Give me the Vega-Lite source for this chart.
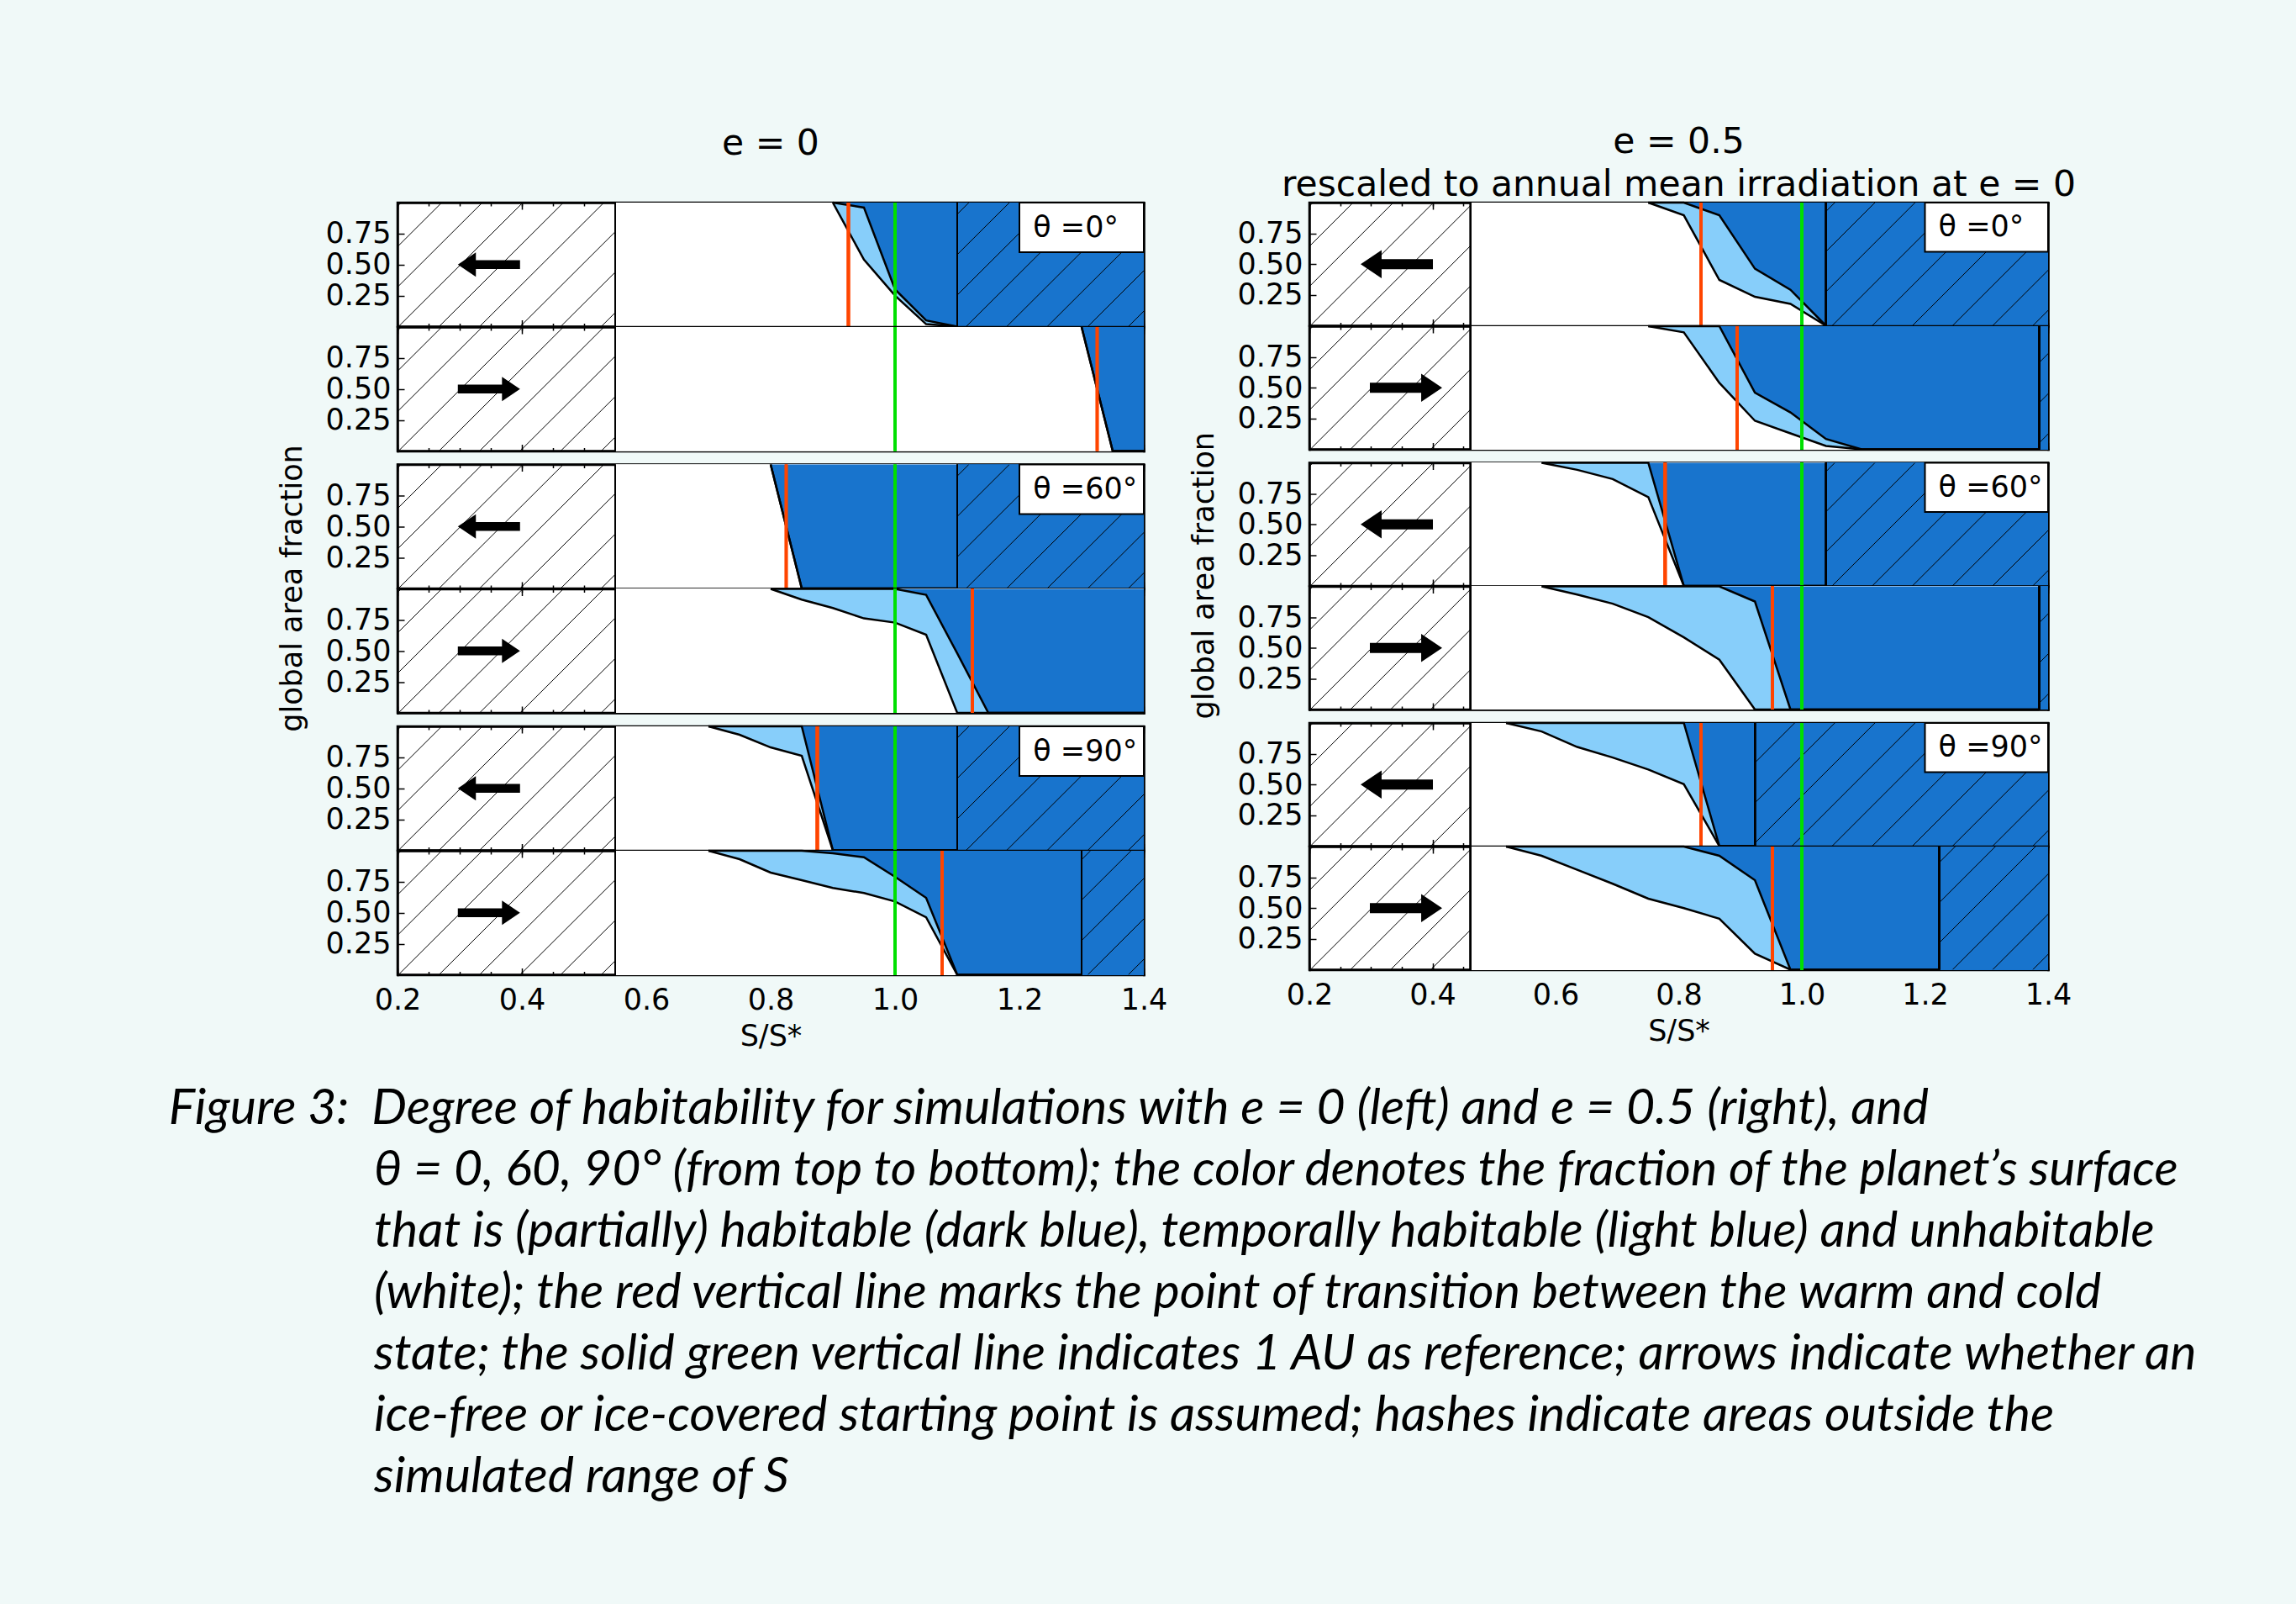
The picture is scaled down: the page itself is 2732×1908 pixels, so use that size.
{
"$schema":"https://vega.github.io/schema/vega-lite/v6.json",
"background":"#f0f9f8",
"padding":{"left":200,"top":123,"right":300,"bottom":200},
"config":{
 "view":{"stroke":"black","strokeWidth":2.5,"fill":"white"},
 "axis":{"grid":false,"domain":true,"domainColor":"black","domainWidth":2.5,"domainCap":"square","tickColor":"black","tickWidth":1.5,"labelFont":"DejaVu Sans","labelFontSize":35,"labelColor":"black","labelFlush":false,"labelOverlap":false,"titleFont":"DejaVu Sans","titleFontSize":35,"titleFontWeight":"normal","titleColor":"black","zindex":1}
},
"datasets":{
 "curves":[
  {"p":"L1","s":0.90,"lo":1,"hi":1},{"p":"L1","s":0.95,"lo":0.54,"hi":0.96},{"p":"L1","s":1.00,"lo":0.25,"hi":0.30},{"p":"L1","s":1.05,"lo":0.02,"hi":0.05},{"p":"L1","s":1.10,"lo":0,"hi":0},
  {"p":"L2","s":1.30,"lo":1,"hi":1},{"p":"L2","s":1.35,"lo":0,"hi":0},{"p":"L2","s":1.40,"lo":0,"hi":0},
  {"p":"L3","s":0.80,"lo":1,"hi":1},{"p":"L3","s":0.85,"lo":0,"hi":0},{"p":"L3","s":1.10,"lo":0,"hi":0},
  {"p":"L4","s":0.80,"lo":1,"hi":1},{"p":"L4","s":0.85,"lo":0.914,"hi":1},{"p":"L4","s":0.90,"lo":0.846,"hi":1},{"p":"L4","s":0.95,"lo":0.762,"hi":1},{"p":"L4","s":1.00,"lo":0.728,"hi":1},{"p":"L4","s":1.05,"lo":0.63,"hi":0.952},{"p":"L4","s":1.10,"lo":0,"hi":0.48},{"p":"L4","s":1.15,"lo":0,"hi":0},{"p":"L4","s":1.40,"lo":0,"hi":0},
  {"p":"L5","s":0.70,"lo":1,"hi":1},{"p":"L5","s":0.75,"lo":0.932,"hi":1},{"p":"L5","s":0.80,"lo":0.83,"hi":1},{"p":"L5","s":0.85,"lo":0.762,"hi":1},{"p":"L5","s":0.90,"lo":0,"hi":0},{"p":"L5","s":1.10,"lo":0,"hi":0},
  {"p":"L6","s":0.70,"lo":1,"hi":1},{"p":"L6","s":0.75,"lo":0.932,"hi":1},{"p":"L6","s":0.80,"lo":0.824,"hi":1},{"p":"L6","s":0.85,"lo":0.763,"hi":1},{"p":"L6","s":0.90,"lo":0.70,"hi":0.98},{"p":"L6","s":0.95,"lo":0.659,"hi":0.948},{"p":"L6","s":1.00,"lo":0.591,"hi":0.79},{"p":"L6","s":1.05,"lo":0.463,"hi":0.62},{"p":"L6","s":1.10,"lo":0,"hi":0},{"p":"L6","s":1.30,"lo":0,"hi":0},
  {"p":"R1","s":0.7506,"lo":1,"hi":1},{"p":"R1","s":0.8083,"lo":0.897,"hi":1},{"p":"R1","s":0.866,"lo":0.372,"hi":0.897},{"p":"R1","s":0.9238,"lo":0.235,"hi":0.463},{"p":"R1","s":0.9815,"lo":0.178,"hi":0.292},{"p":"R1","s":1.0392,"lo":0,"hi":0},
  {"p":"R2","s":0.7506,"lo":1,"hi":1},{"p":"R2","s":0.8083,"lo":0.95,"hi":1},{"p":"R2","s":0.866,"lo":0.54,"hi":1},{"p":"R2","s":0.9238,"lo":0.232,"hi":0.46},{"p":"R2","s":0.9815,"lo":0.13,"hi":0.30},{"p":"R2","s":1.0392,"lo":0.027,"hi":0.084},{"p":"R2","s":1.097,"lo":0,"hi":0},{"p":"R2","s":1.3856,"lo":0,"hi":0},
  {"p":"R3","s":0.5774,"lo":1,"hi":1},{"p":"R3","s":0.6351,"lo":0.943,"hi":1},{"p":"R3","s":0.6928,"lo":0.868,"hi":1},{"p":"R3","s":0.7506,"lo":0.721,"hi":1},{"p":"R3","s":0.8083,"lo":0,"hi":0},{"p":"R3","s":1.0392,"lo":0,"hi":0},
  {"p":"R4","s":0.5774,"lo":1,"hi":1},{"p":"R4","s":0.6351,"lo":0.934,"hi":1},{"p":"R4","s":0.6928,"lo":0.859,"hi":1},{"p":"R4","s":0.7506,"lo":0.75,"hi":1},{"p":"R4","s":0.8083,"lo":0.586,"hi":1},{"p":"R4","s":0.866,"lo":0.405,"hi":1},{"p":"R4","s":0.9238,"lo":0,"hi":0.877},{"p":"R4","s":0.9815,"lo":0,"hi":0},{"p":"R4","s":1.3856,"lo":0,"hi":0},
  {"p":"R5","s":0.5196,"lo":1,"hi":1},{"p":"R5","s":0.5774,"lo":0.931,"hi":1},{"p":"R5","s":0.6351,"lo":0.805,"hi":1},{"p":"R5","s":0.6928,"lo":0.719,"hi":1},{"p":"R5","s":0.7506,"lo":0.622,"hi":1},{"p":"R5","s":0.8083,"lo":0.503,"hi":1},{"p":"R5","s":0.866,"lo":0,"hi":0},{"p":"R5","s":0.9238,"lo":0,"hi":0},
  {"p":"R6","s":0.5196,"lo":1,"hi":1},{"p":"R6","s":0.5774,"lo":0.925,"hi":1},{"p":"R6","s":0.6351,"lo":0.811,"hi":1},{"p":"R6","s":0.6928,"lo":0.698,"hi":1},{"p":"R6","s":0.7506,"lo":0.577,"hi":1},{"p":"R6","s":0.8083,"lo":0.5,"hi":1},{"p":"R6","s":0.866,"lo":0.414,"hi":0.925},{"p":"R6","s":0.9238,"lo":0.13,"hi":0.727},{"p":"R6","s":0.9815,"lo":0,"hi":0},{"p":"R6","s":1.223,"lo":0,"hi":0}
 ],
 "hatch":[
  {"c":0.0059,"c2":0.2059},{"c":0.0711,"c2":0.2711},{"c":0.1363,"c2":0.3363},{"c":0.2015,"c2":0.4015},{"c":0.2667,"c2":0.4667},{"c":0.3319,"c2":0.5319},{"c":0.3971,"c2":0.5971},{"c":0.4623,"c2":0.6623},{"c":0.5275,"c2":0.7275},{"c":0.5927,"c2":0.7927},{"c":0.6579,"c2":0.8579},{"c":0.7231,"c2":0.9231},{"c":0.7883,"c2":0.9883},{"c":0.8535,"c2":1.0535},{"c":0.9187,"c2":1.1187},{"c":0.9839,"c2":1.1839},{"c":1.0491,"c2":1.2491},{"c":1.1143,"c2":1.3143},{"c":1.1795,"c2":1.3795},{"c":1.2447,"c2":1.4447},{"c":1.3099,"c2":1.5099},{"c":1.3751,"c2":1.5751}
 ]
},
"title":{"text":[
 "Figure 3:\u2002Degree of habitability for simulations with e = 0 (left) and e = 0.5 (right), and",
 "\u200b\u2003\u2003\u2003\u2003\u2003\u2003θ = 0, 60, 90° (from top to bottom); the color denotes the fraction of the planet’s surface",
 "\u200b\u2003\u2003\u2003\u2003\u2003\u2003that is (partially) habitable (dark blue), temporally habitable (light blue) and unhabitable",
 "\u200b\u2003\u2003\u2003\u2003\u2003\u2003(white); the red vertical line marks the point of transition between the warm and cold",
 "\u200b\u2003\u2003\u2003\u2003\u2003\u2003state; the solid green vertical line indicates 1 AU as reference; arrows indicate whether an",
 "\u200b\u2003\u2003\u2003\u2003\u2003\u2003ice-free or ice-covered starting point is assumed; hashes indicate areas outside the",
 "\u200b\u2003\u2003\u2003\u2003\u2003\u2003simulated range of S"],
 "orient":"bottom","anchor":"start","frame":"bounds","font":"Lato","fontStyle":"italic","fontSize":59,"fontWeight":"normal","lineHeight":73,"offset":38,"dx":-130,"color":"black"},
"spacing":24,
"hconcat":[
{"spacing":2.5,
 "title":{"text":"global area fraction","orient":"left","anchor":"middle","font":"DejaVu Sans","fontSize":35,"fontWeight":"normal","color":"black","offset":20},
 "vconcat":[
 {"spacing":0,"bounds":"flush","vconcat":[
  {"width":888,"height":147.5,
   "title":{"text":"e = 0","font":"DejaVu Sans","fontSize":42.5,"fontWeight":"normal","color":"black","frame":"group","offset":44},
   "data":{"name":"curves"},"transform":[{"filter":"datum.p=='L1'"}],
   "resolve":{"axis":{"x":"independent","y":"independent"}},
   "layer":[
    {"mark":{"type":"rect","color":"#1874cd"},"encoding":{"x":{"datum":1.1,"type":"quantitative","scale":{"domain":[0.2,1.4],"nice":false,"zero":false},"axis":{"orient":"bottom","tickCount":6,"tickSize":-8,"labels":false,"title":null}},"x2":{"datum":1.4},"y":{"datum":0,"type":"quantitative","scale":{"domain":[0,1],"nice":false,"zero":false},"axis":{"orient":"left","values":[0.25,0.5,0.75],"format":".2f","tickSize":-8,"labelPadding":16,"title":null}},"y2":{"datum":1}}},
    {"data":{"name":"hatch"},"mark":{"type":"rule","clip":true,"color":"black","strokeWidth":1},"encoding":{"x":{"field":"c","type":"quantitative","axis":{"orient":"bottom","tickCount":24,"tickSize":-4,"labels":false,"domain":false,"title":null}},"x2":{"field":"c2"},"y":{"datum":0,"type":"quantitative","axis":{"orient":"right","values":[0.25,0.5,0.75],"tickSize":-8,"labels":false,"title":null}},"y2":{"datum":1}}},
    {"mark":{"type":"rect","color":"white"},"encoding":{"x":{"datum":0.55,"type":"quantitative","axis":{"orient":"top","tickCount":6,"tickSize":-8,"labels":false,"title":null}},"x2":{"datum":1.1},"y":{"datum":0,"type":"quantitative","axis":null},"y2":{"datum":1}}},
    {"mark":{"type":"area","color":"#87cefa"},"encoding":{"x":{"field":"s","type":"quantitative","axis":{"orient":"top","tickCount":24,"tickSize":-4,"labels":false,"domain":false,"title":null}},"y":{"field":"lo","type":"quantitative","axis":null,"stack":null},"y2":{"field":"hi"}}},
    {"mark":{"type":"area","color":"#1874cd"},"encoding":{"x":{"field":"s","type":"quantitative","axis":null},"y":{"field":"hi","type":"quantitative","axis":null,"stack":null},"y2":{"datum":1}}},
    {"mark":{"type":"line","color":"black","strokeWidth":2.5},"encoding":{"x":{"field":"s","type":"quantitative","axis":null},"y":{"field":"lo","type":"quantitative","axis":null}}},
    {"mark":{"type":"line","color":"black","strokeWidth":2.5},"encoding":{"x":{"field":"s","type":"quantitative","axis":null},"y":{"field":"hi","type":"quantitative","axis":null}}},
    {"mark":{"type":"rule","color":"black","strokeWidth":2},"encoding":{"x":{"datum":0.55,"axis":null}}},
    {"mark":{"type":"rule","color":"black","strokeWidth":2},"encoding":{"x":{"datum":1.1,"axis":null}}},
    {"mark":{"type":"rule","color":"#ff4500","strokeWidth":3.5},"encoding":{"x":{"datum":0.925,"axis":null}}},
    {"mark":{"type":"rule","color":"#00e000","strokeWidth":3.5},"encoding":{"x":{"datum":1,"axis":null}}},
    {"data":{"values":[{}]},"mark":{"type":"point","shape":"M 1 -0.14 L -0.42 -0.14 L -0.42 -0.39 L -1 0 L -0.42 0.39 L -0.42 0.14 L 1 0.14 Z","size":5476,"filled":true,"color":"black","opacity":1},"encoding":{"x":{"datum":0.347,"axis":null},"y":{"datum":0.5,"axis":null}}},
    {"data":{"values":[{}]},"mark":{"type":"rect","fill":"white","stroke":"black","strokeWidth":2},"encoding":{"x":{"datum":1.2,"axis":null},"x2":{"datum":1.4},"y":{"datum":0.6,"axis":null},"y2":{"datum":1}}},
    {"data":{"values":[{}]},"mark":{"type":"text","text":"θ =0°","align":"left","baseline":"middle","font":"DejaVu Sans","fontSize":35,"color":"black"},"encoding":{"x":{"datum":1.222,"axis":null},"y":{"datum":0.8,"axis":null}}}
   ]},
  {"width":888,"height":147.5,
   "data":{"name":"curves"},"transform":[{"filter":"datum.p=='L2'"}],
   "resolve":{"axis":{"x":"independent","y":"independent"}},
   "layer":[
    {"mark":{"type":"rect","color":"#1874cd"},"encoding":{"x":{"datum":1.4,"type":"quantitative","scale":{"domain":[0.2,1.4],"nice":false,"zero":false},"axis":{"orient":"bottom","tickCount":6,"tickSize":-8,"labels":false,"title":null}},"x2":{"datum":1.4},"y":{"datum":0,"type":"quantitative","scale":{"domain":[0,1],"nice":false,"zero":false},"axis":{"orient":"left","values":[0.25,0.5,0.75],"format":".2f","tickSize":-8,"labelPadding":16,"title":null}},"y2":{"datum":1}}},
    {"data":{"name":"hatch"},"mark":{"type":"rule","clip":true,"color":"black","strokeWidth":1},"encoding":{"x":{"field":"c","type":"quantitative","axis":{"orient":"bottom","tickCount":24,"tickSize":-4,"labels":false,"domain":false,"title":null}},"x2":{"field":"c2"},"y":{"datum":0,"type":"quantitative","axis":{"orient":"right","values":[0.25,0.5,0.75],"tickSize":-8,"labels":false,"title":null}},"y2":{"datum":1}}},
    {"mark":{"type":"rect","color":"white"},"encoding":{"x":{"datum":0.55,"type":"quantitative","axis":{"orient":"top","tickCount":6,"tickSize":-8,"labels":false,"title":null}},"x2":{"datum":1.4},"y":{"datum":0,"type":"quantitative","axis":null},"y2":{"datum":1}}},
    {"mark":{"type":"area","color":"#87cefa"},"encoding":{"x":{"field":"s","type":"quantitative","axis":{"orient":"top","tickCount":24,"tickSize":-4,"labels":false,"domain":false,"title":null}},"y":{"field":"lo","type":"quantitative","axis":null,"stack":null},"y2":{"field":"hi"}}},
    {"mark":{"type":"area","color":"#1874cd"},"encoding":{"x":{"field":"s","type":"quantitative","axis":null},"y":{"field":"hi","type":"quantitative","axis":null,"stack":null},"y2":{"datum":1}}},
    {"mark":{"type":"line","color":"black","strokeWidth":2.5},"encoding":{"x":{"field":"s","type":"quantitative","axis":null},"y":{"field":"lo","type":"quantitative","axis":null}}},
    {"mark":{"type":"line","color":"black","strokeWidth":2.5},"encoding":{"x":{"field":"s","type":"quantitative","axis":null},"y":{"field":"hi","type":"quantitative","axis":null}}},
    {"mark":{"type":"rule","color":"black","strokeWidth":2},"encoding":{"x":{"datum":0.55,"axis":null}}},
    {"mark":{"type":"rule","color":"#ff4500","strokeWidth":3.5},"encoding":{"x":{"datum":1.325,"axis":null}}},
    {"mark":{"type":"rule","color":"#00e000","strokeWidth":3.5},"encoding":{"x":{"datum":1,"axis":null}}},
    {"data":{"values":[{}]},"mark":{"type":"point","shape":"M -1 -0.14 L 0.42 -0.14 L 0.42 -0.39 L 1 0 L 0.42 0.39 L 0.42 0.14 L -1 0.14 Z","size":5476,"filled":true,"color":"black","opacity":1},"encoding":{"x":{"datum":0.347,"axis":null},"y":{"datum":0.5,"axis":null}}}
   ]}
 ]},
 {"spacing":0,"bounds":"flush","vconcat":[
  {"width":888,"height":147.5,
   "data":{"name":"curves"},"transform":[{"filter":"datum.p=='L3'"}],
   "resolve":{"axis":{"x":"independent","y":"independent"}},
   "layer":[
    {"mark":{"type":"rect","color":"#1874cd"},"encoding":{"x":{"datum":1.1,"type":"quantitative","scale":{"domain":[0.2,1.4],"nice":false,"zero":false},"axis":{"orient":"bottom","tickCount":6,"tickSize":-8,"labels":false,"title":null}},"x2":{"datum":1.4},"y":{"datum":0,"type":"quantitative","scale":{"domain":[0,1],"nice":false,"zero":false},"axis":{"orient":"left","values":[0.25,0.5,0.75],"format":".2f","tickSize":-8,"labelPadding":16,"title":null}},"y2":{"datum":1}}},
    {"data":{"name":"hatch"},"mark":{"type":"rule","clip":true,"color":"black","strokeWidth":1},"encoding":{"x":{"field":"c","type":"quantitative","axis":{"orient":"bottom","tickCount":24,"tickSize":-4,"labels":false,"domain":false,"title":null}},"x2":{"field":"c2"},"y":{"datum":0,"type":"quantitative","axis":{"orient":"right","values":[0.25,0.5,0.75],"tickSize":-8,"labels":false,"title":null}},"y2":{"datum":1}}},
    {"mark":{"type":"rect","color":"white"},"encoding":{"x":{"datum":0.55,"type":"quantitative","axis":{"orient":"top","tickCount":6,"tickSize":-8,"labels":false,"title":null}},"x2":{"datum":1.1},"y":{"datum":0,"type":"quantitative","axis":null},"y2":{"datum":1}}},
    {"mark":{"type":"area","color":"#87cefa"},"encoding":{"x":{"field":"s","type":"quantitative","axis":{"orient":"top","tickCount":24,"tickSize":-4,"labels":false,"domain":false,"title":null}},"y":{"field":"lo","type":"quantitative","axis":null,"stack":null},"y2":{"field":"hi"}}},
    {"mark":{"type":"area","color":"#1874cd"},"encoding":{"x":{"field":"s","type":"quantitative","axis":null},"y":{"field":"hi","type":"quantitative","axis":null,"stack":null},"y2":{"datum":1}}},
    {"mark":{"type":"line","color":"black","strokeWidth":2.5},"encoding":{"x":{"field":"s","type":"quantitative","axis":null},"y":{"field":"lo","type":"quantitative","axis":null}}},
    {"mark":{"type":"line","color":"black","strokeWidth":2.5},"encoding":{"x":{"field":"s","type":"quantitative","axis":null},"y":{"field":"hi","type":"quantitative","axis":null}}},
    {"mark":{"type":"rule","color":"black","strokeWidth":2},"encoding":{"x":{"datum":0.55,"axis":null}}},
    {"mark":{"type":"rule","color":"black","strokeWidth":2},"encoding":{"x":{"datum":1.1,"axis":null}}},
    {"mark":{"type":"rule","color":"#ff4500","strokeWidth":3.5},"encoding":{"x":{"datum":0.825,"axis":null}}},
    {"mark":{"type":"rule","color":"#00e000","strokeWidth":3.5},"encoding":{"x":{"datum":1,"axis":null}}},
    {"data":{"values":[{}]},"mark":{"type":"point","shape":"M 1 -0.14 L -0.42 -0.14 L -0.42 -0.39 L -1 0 L -0.42 0.39 L -0.42 0.14 L 1 0.14 Z","size":5476,"filled":true,"color":"black","opacity":1},"encoding":{"x":{"datum":0.347,"axis":null},"y":{"datum":0.5,"axis":null}}},
    {"data":{"values":[{}]},"mark":{"type":"rect","fill":"white","stroke":"black","strokeWidth":2},"encoding":{"x":{"datum":1.2,"axis":null},"x2":{"datum":1.4},"y":{"datum":0.6,"axis":null},"y2":{"datum":1}}},
    {"data":{"values":[{}]},"mark":{"type":"text","text":"θ =60°","align":"left","baseline":"middle","font":"DejaVu Sans","fontSize":35,"color":"black"},"encoding":{"x":{"datum":1.222,"axis":null},"y":{"datum":0.8,"axis":null}}}
   ]},
  {"width":888,"height":147.5,
   "data":{"name":"curves"},"transform":[{"filter":"datum.p=='L4'"}],
   "resolve":{"axis":{"x":"independent","y":"independent"}},
   "layer":[
    {"mark":{"type":"rect","color":"#1874cd"},"encoding":{"x":{"datum":1.4,"type":"quantitative","scale":{"domain":[0.2,1.4],"nice":false,"zero":false},"axis":{"orient":"bottom","tickCount":6,"tickSize":-8,"labels":false,"title":null}},"x2":{"datum":1.4},"y":{"datum":0,"type":"quantitative","scale":{"domain":[0,1],"nice":false,"zero":false},"axis":{"orient":"left","values":[0.25,0.5,0.75],"format":".2f","tickSize":-8,"labelPadding":16,"title":null}},"y2":{"datum":1}}},
    {"data":{"name":"hatch"},"mark":{"type":"rule","clip":true,"color":"black","strokeWidth":1},"encoding":{"x":{"field":"c","type":"quantitative","axis":{"orient":"bottom","tickCount":24,"tickSize":-4,"labels":false,"domain":false,"title":null}},"x2":{"field":"c2"},"y":{"datum":0,"type":"quantitative","axis":{"orient":"right","values":[0.25,0.5,0.75],"tickSize":-8,"labels":false,"title":null}},"y2":{"datum":1}}},
    {"mark":{"type":"rect","color":"white"},"encoding":{"x":{"datum":0.55,"type":"quantitative","axis":{"orient":"top","tickCount":6,"tickSize":-8,"labels":false,"title":null}},"x2":{"datum":1.4},"y":{"datum":0,"type":"quantitative","axis":null},"y2":{"datum":1}}},
    {"mark":{"type":"area","color":"#87cefa"},"encoding":{"x":{"field":"s","type":"quantitative","axis":{"orient":"top","tickCount":24,"tickSize":-4,"labels":false,"domain":false,"title":null}},"y":{"field":"lo","type":"quantitative","axis":null,"stack":null},"y2":{"field":"hi"}}},
    {"mark":{"type":"area","color":"#1874cd"},"encoding":{"x":{"field":"s","type":"quantitative","axis":null},"y":{"field":"hi","type":"quantitative","axis":null,"stack":null},"y2":{"datum":1}}},
    {"mark":{"type":"line","color":"black","strokeWidth":2.5},"encoding":{"x":{"field":"s","type":"quantitative","axis":null},"y":{"field":"lo","type":"quantitative","axis":null}}},
    {"mark":{"type":"line","color":"black","strokeWidth":2.5},"encoding":{"x":{"field":"s","type":"quantitative","axis":null},"y":{"field":"hi","type":"quantitative","axis":null}}},
    {"mark":{"type":"rule","color":"black","strokeWidth":2},"encoding":{"x":{"datum":0.55,"axis":null}}},
    {"mark":{"type":"rule","color":"#ff4500","strokeWidth":3.5},"encoding":{"x":{"datum":1.124,"axis":null}}},
    {"mark":{"type":"rule","color":"#00e000","strokeWidth":3.5},"encoding":{"x":{"datum":1,"axis":null}}},
    {"data":{"values":[{}]},"mark":{"type":"point","shape":"M -1 -0.14 L 0.42 -0.14 L 0.42 -0.39 L 1 0 L 0.42 0.39 L 0.42 0.14 L -1 0.14 Z","size":5476,"filled":true,"color":"black","opacity":1},"encoding":{"x":{"datum":0.347,"axis":null},"y":{"datum":0.5,"axis":null}}}
   ]}
 ]},
 {"spacing":0,"bounds":"flush","vconcat":[
  {"width":888,"height":147.5,
   "data":{"name":"curves"},"transform":[{"filter":"datum.p=='L5'"}],
   "resolve":{"axis":{"x":"independent","y":"independent"}},
   "layer":[
    {"mark":{"type":"rect","color":"#1874cd"},"encoding":{"x":{"datum":1.1,"type":"quantitative","scale":{"domain":[0.2,1.4],"nice":false,"zero":false},"axis":{"orient":"bottom","tickCount":6,"tickSize":-8,"labels":false,"title":null}},"x2":{"datum":1.4},"y":{"datum":0,"type":"quantitative","scale":{"domain":[0,1],"nice":false,"zero":false},"axis":{"orient":"left","values":[0.25,0.5,0.75],"format":".2f","tickSize":-8,"labelPadding":16,"title":null}},"y2":{"datum":1}}},
    {"data":{"name":"hatch"},"mark":{"type":"rule","clip":true,"color":"black","strokeWidth":1},"encoding":{"x":{"field":"c","type":"quantitative","axis":{"orient":"bottom","tickCount":24,"tickSize":-4,"labels":false,"domain":false,"title":null}},"x2":{"field":"c2"},"y":{"datum":0,"type":"quantitative","axis":{"orient":"right","values":[0.25,0.5,0.75],"tickSize":-8,"labels":false,"title":null}},"y2":{"datum":1}}},
    {"mark":{"type":"rect","color":"white"},"encoding":{"x":{"datum":0.55,"type":"quantitative","axis":{"orient":"top","tickCount":6,"tickSize":-8,"labels":false,"title":null}},"x2":{"datum":1.1},"y":{"datum":0,"type":"quantitative","axis":null},"y2":{"datum":1}}},
    {"mark":{"type":"area","color":"#87cefa"},"encoding":{"x":{"field":"s","type":"quantitative","axis":{"orient":"top","tickCount":24,"tickSize":-4,"labels":false,"domain":false,"title":null}},"y":{"field":"lo","type":"quantitative","axis":null,"stack":null},"y2":{"field":"hi"}}},
    {"mark":{"type":"area","color":"#1874cd"},"encoding":{"x":{"field":"s","type":"quantitative","axis":null},"y":{"field":"hi","type":"quantitative","axis":null,"stack":null},"y2":{"datum":1}}},
    {"mark":{"type":"line","color":"black","strokeWidth":2.5},"encoding":{"x":{"field":"s","type":"quantitative","axis":null},"y":{"field":"lo","type":"quantitative","axis":null}}},
    {"mark":{"type":"line","color":"black","strokeWidth":2.5},"encoding":{"x":{"field":"s","type":"quantitative","axis":null},"y":{"field":"hi","type":"quantitative","axis":null}}},
    {"mark":{"type":"rule","color":"black","strokeWidth":2},"encoding":{"x":{"datum":0.55,"axis":null}}},
    {"mark":{"type":"rule","color":"black","strokeWidth":2},"encoding":{"x":{"datum":1.1,"axis":null}}},
    {"mark":{"type":"rule","color":"#ff4500","strokeWidth":3.5},"encoding":{"x":{"datum":0.875,"axis":null}}},
    {"mark":{"type":"rule","color":"#00e000","strokeWidth":3.5},"encoding":{"x":{"datum":1,"axis":null}}},
    {"data":{"values":[{}]},"mark":{"type":"point","shape":"M 1 -0.14 L -0.42 -0.14 L -0.42 -0.39 L -1 0 L -0.42 0.39 L -0.42 0.14 L 1 0.14 Z","size":5476,"filled":true,"color":"black","opacity":1},"encoding":{"x":{"datum":0.347,"axis":null},"y":{"datum":0.5,"axis":null}}},
    {"data":{"values":[{}]},"mark":{"type":"rect","fill":"white","stroke":"black","strokeWidth":2},"encoding":{"x":{"datum":1.2,"axis":null},"x2":{"datum":1.4},"y":{"datum":0.6,"axis":null},"y2":{"datum":1}}},
    {"data":{"values":[{}]},"mark":{"type":"text","text":"θ =90°","align":"left","baseline":"middle","font":"DejaVu Sans","fontSize":35,"color":"black"},"encoding":{"x":{"datum":1.222,"axis":null},"y":{"datum":0.8,"axis":null}}}
   ]},
  {"width":888,"height":147.5,
   "data":{"name":"curves"},"transform":[{"filter":"datum.p=='L6'"}],
   "resolve":{"axis":{"x":"independent","y":"independent"}},
   "layer":[
    {"mark":{"type":"rect","color":"#1874cd"},"encoding":{"x":{"datum":1.3,"type":"quantitative","scale":{"domain":[0.2,1.4],"nice":false,"zero":false},"axis":{"orient":"bottom","tickCount":6,"tickSize":-8,"labelPadding":21,"title":"S/S*","titlePadding":8}},"x2":{"datum":1.4},"y":{"datum":0,"type":"quantitative","scale":{"domain":[0,1],"nice":false,"zero":false},"axis":{"orient":"left","values":[0.25,0.5,0.75],"format":".2f","tickSize":-8,"labelPadding":16,"title":null}},"y2":{"datum":1}}},
    {"data":{"name":"hatch"},"mark":{"type":"rule","clip":true,"color":"black","strokeWidth":1},"encoding":{"x":{"field":"c","type":"quantitative","axis":{"orient":"bottom","tickCount":24,"tickSize":-4,"labels":false,"domain":false,"title":null}},"x2":{"field":"c2"},"y":{"datum":0,"type":"quantitative","axis":{"orient":"right","values":[0.25,0.5,0.75],"tickSize":-8,"labels":false,"title":null}},"y2":{"datum":1}}},
    {"mark":{"type":"rect","color":"white"},"encoding":{"x":{"datum":0.55,"type":"quantitative","axis":{"orient":"top","tickCount":6,"tickSize":-8,"labels":false,"title":null}},"x2":{"datum":1.3},"y":{"datum":0,"type":"quantitative","axis":null},"y2":{"datum":1}}},
    {"mark":{"type":"area","color":"#87cefa"},"encoding":{"x":{"field":"s","type":"quantitative","axis":{"orient":"top","tickCount":24,"tickSize":-4,"labels":false,"domain":false,"title":null}},"y":{"field":"lo","type":"quantitative","axis":null,"stack":null},"y2":{"field":"hi"}}},
    {"mark":{"type":"area","color":"#1874cd"},"encoding":{"x":{"field":"s","type":"quantitative","axis":null},"y":{"field":"hi","type":"quantitative","axis":null,"stack":null},"y2":{"datum":1}}},
    {"mark":{"type":"line","color":"black","strokeWidth":2.5},"encoding":{"x":{"field":"s","type":"quantitative","axis":null},"y":{"field":"lo","type":"quantitative","axis":null}}},
    {"mark":{"type":"line","color":"black","strokeWidth":2.5},"encoding":{"x":{"field":"s","type":"quantitative","axis":null},"y":{"field":"hi","type":"quantitative","axis":null}}},
    {"mark":{"type":"rule","color":"black","strokeWidth":2},"encoding":{"x":{"datum":0.55,"axis":null}}},
    {"mark":{"type":"rule","color":"black","strokeWidth":2},"encoding":{"x":{"datum":1.3,"axis":null}}},
    {"mark":{"type":"rule","color":"#ff4500","strokeWidth":3.5},"encoding":{"x":{"datum":1.076,"axis":null}}},
    {"mark":{"type":"rule","color":"#00e000","strokeWidth":3.5},"encoding":{"x":{"datum":1,"axis":null}}},
    {"data":{"values":[{}]},"mark":{"type":"point","shape":"M -1 -0.14 L 0.42 -0.14 L 0.42 -0.39 L 1 0 L 0.42 0.39 L 0.42 0.14 L -1 0.14 Z","size":5476,"filled":true,"color":"black","opacity":1},"encoding":{"x":{"datum":0.347,"axis":null},"y":{"datum":0.5,"axis":null}}}
   ]}
 ]}
]},
{"spacing":2.5,
 "title":{"text":"global area fraction","orient":"left","anchor":"middle","font":"DejaVu Sans","fontSize":35,"fontWeight":"normal","color":"black","offset":20},
 "vconcat":[
 {"spacing":0,"bounds":"flush","vconcat":[
  {"width":879,"height":146.5,
   "title":{"text":["\u200b","e = 0.5"],"lineHeight":23,"subtitle":"rescaled to annual mean irradiation at e = 0","subtitleFont":"DejaVu Sans","subtitleFontSize":42.5,"subtitleFontWeight":"normal","subtitleColor":"black","subtitlePadding":8,"font":"DejaVu Sans","fontSize":42.5,"fontWeight":"normal","color":"black","frame":"group","offset":-5},
   "data":{"name":"curves"},"transform":[{"filter":"datum.p=='R1'"}],
   "resolve":{"axis":{"x":"independent","y":"independent"}},
   "layer":[
    {"mark":{"type":"rect","color":"#1874cd"},"encoding":{"x":{"datum":1.0392,"type":"quantitative","scale":{"domain":[0.2,1.4],"nice":false,"zero":false},"axis":{"orient":"bottom","tickCount":6,"tickSize":-8,"labels":false,"title":null}},"x2":{"datum":1.4},"y":{"datum":0,"type":"quantitative","scale":{"domain":[0,1],"nice":false,"zero":false},"axis":{"orient":"left","values":[0.25,0.5,0.75],"format":".2f","tickSize":-8,"labelPadding":16,"title":null}},"y2":{"datum":1}}},
    {"data":{"name":"hatch"},"mark":{"type":"rule","clip":true,"color":"black","strokeWidth":1},"encoding":{"x":{"field":"c","type":"quantitative","axis":{"orient":"bottom","tickCount":24,"tickSize":-4,"labels":false,"domain":false,"title":null}},"x2":{"field":"c2"},"y":{"datum":0,"type":"quantitative","axis":{"orient":"right","values":[0.25,0.5,0.75],"tickSize":-8,"labels":false,"title":null}},"y2":{"datum":1}}},
    {"mark":{"type":"rect","color":"white"},"encoding":{"x":{"datum":0.4619,"type":"quantitative","axis":{"orient":"top","tickCount":6,"tickSize":-8,"labels":false,"title":null}},"x2":{"datum":1.0392},"y":{"datum":0,"type":"quantitative","axis":null},"y2":{"datum":1}}},
    {"mark":{"type":"area","color":"#87cefa"},"encoding":{"x":{"field":"s","type":"quantitative","axis":{"orient":"top","tickCount":24,"tickSize":-4,"labels":false,"domain":false,"title":null}},"y":{"field":"lo","type":"quantitative","axis":null,"stack":null},"y2":{"field":"hi"}}},
    {"mark":{"type":"area","color":"#1874cd"},"encoding":{"x":{"field":"s","type":"quantitative","axis":null},"y":{"field":"hi","type":"quantitative","axis":null,"stack":null},"y2":{"datum":1}}},
    {"mark":{"type":"line","color":"black","strokeWidth":2.5},"encoding":{"x":{"field":"s","type":"quantitative","axis":null},"y":{"field":"lo","type":"quantitative","axis":null}}},
    {"mark":{"type":"line","color":"black","strokeWidth":2.5},"encoding":{"x":{"field":"s","type":"quantitative","axis":null},"y":{"field":"hi","type":"quantitative","axis":null}}},
    {"mark":{"type":"rule","color":"black","strokeWidth":2},"encoding":{"x":{"datum":0.4619,"axis":null}}},
    {"mark":{"type":"rule","color":"black","strokeWidth":2},"encoding":{"x":{"datum":1.0392,"axis":null}}},
    {"mark":{"type":"rule","color":"#ff4500","strokeWidth":3.5},"encoding":{"x":{"datum":0.836,"axis":null}}},
    {"mark":{"type":"rule","color":"#00e000","strokeWidth":3.5},"encoding":{"x":{"datum":1,"axis":null}}},
    {"data":{"values":[{}]},"mark":{"type":"point","shape":"M 1 -0.14 L -0.42 -0.14 L -0.42 -0.39 L -1 0 L -0.42 0.39 L -0.42 0.14 L 1 0.14 Z","size":7396,"filled":true,"color":"black","opacity":1},"encoding":{"x":{"datum":0.342,"axis":null},"y":{"datum":0.5,"axis":null}}},
    {"data":{"values":[{}]},"mark":{"type":"rect","fill":"white","stroke":"black","strokeWidth":2},"encoding":{"x":{"datum":1.2,"axis":null},"x2":{"datum":1.4},"y":{"datum":0.6,"axis":null},"y2":{"datum":1}}},
    {"data":{"values":[{}]},"mark":{"type":"text","text":"θ =0°","align":"left","baseline":"middle","font":"DejaVu Sans","fontSize":35,"color":"black"},"encoding":{"x":{"datum":1.222,"axis":null},"y":{"datum":0.8,"axis":null}}}
   ]},
  {"width":879,"height":146.5,
   "data":{"name":"curves"},"transform":[{"filter":"datum.p=='R2'"}],
   "resolve":{"axis":{"x":"independent","y":"independent"}},
   "layer":[
    {"mark":{"type":"rect","color":"#1874cd"},"encoding":{"x":{"datum":1.3856,"type":"quantitative","scale":{"domain":[0.2,1.4],"nice":false,"zero":false},"axis":{"orient":"bottom","tickCount":6,"tickSize":-8,"labels":false,"title":null}},"x2":{"datum":1.4},"y":{"datum":0,"type":"quantitative","scale":{"domain":[0,1],"nice":false,"zero":false},"axis":{"orient":"left","values":[0.25,0.5,0.75],"format":".2f","tickSize":-8,"labelPadding":16,"title":null}},"y2":{"datum":1}}},
    {"data":{"name":"hatch"},"mark":{"type":"rule","clip":true,"color":"black","strokeWidth":1},"encoding":{"x":{"field":"c","type":"quantitative","axis":{"orient":"bottom","tickCount":24,"tickSize":-4,"labels":false,"domain":false,"title":null}},"x2":{"field":"c2"},"y":{"datum":0,"type":"quantitative","axis":{"orient":"right","values":[0.25,0.5,0.75],"tickSize":-8,"labels":false,"title":null}},"y2":{"datum":1}}},
    {"mark":{"type":"rect","color":"white"},"encoding":{"x":{"datum":0.4619,"type":"quantitative","axis":{"orient":"top","tickCount":6,"tickSize":-8,"labels":false,"title":null}},"x2":{"datum":1.3856},"y":{"datum":0,"type":"quantitative","axis":null},"y2":{"datum":1}}},
    {"mark":{"type":"area","color":"#87cefa"},"encoding":{"x":{"field":"s","type":"quantitative","axis":{"orient":"top","tickCount":24,"tickSize":-4,"labels":false,"domain":false,"title":null}},"y":{"field":"lo","type":"quantitative","axis":null,"stack":null},"y2":{"field":"hi"}}},
    {"mark":{"type":"area","color":"#1874cd"},"encoding":{"x":{"field":"s","type":"quantitative","axis":null},"y":{"field":"hi","type":"quantitative","axis":null,"stack":null},"y2":{"datum":1}}},
    {"mark":{"type":"line","color":"black","strokeWidth":2.5},"encoding":{"x":{"field":"s","type":"quantitative","axis":null},"y":{"field":"lo","type":"quantitative","axis":null}}},
    {"mark":{"type":"line","color":"black","strokeWidth":2.5},"encoding":{"x":{"field":"s","type":"quantitative","axis":null},"y":{"field":"hi","type":"quantitative","axis":null}}},
    {"mark":{"type":"rule","color":"black","strokeWidth":2},"encoding":{"x":{"datum":0.4619,"axis":null}}},
    {"mark":{"type":"rule","color":"black","strokeWidth":2},"encoding":{"x":{"datum":1.3856,"axis":null}}},
    {"mark":{"type":"rule","color":"#ff4500","strokeWidth":3.5},"encoding":{"x":{"datum":0.895,"axis":null}}},
    {"mark":{"type":"rule","color":"#00e000","strokeWidth":3.5},"encoding":{"x":{"datum":1,"axis":null}}},
    {"data":{"values":[{}]},"mark":{"type":"point","shape":"M -1 -0.14 L 0.42 -0.14 L 0.42 -0.39 L 1 0 L 0.42 0.39 L 0.42 0.14 L -1 0.14 Z","size":7396,"filled":true,"color":"black","opacity":1},"encoding":{"x":{"datum":0.357,"axis":null},"y":{"datum":0.5,"axis":null}}}
   ]}
 ]},
 {"spacing":0,"bounds":"flush","vconcat":[
  {"width":879,"height":146.5,
   "data":{"name":"curves"},"transform":[{"filter":"datum.p=='R3'"}],
   "resolve":{"axis":{"x":"independent","y":"independent"}},
   "layer":[
    {"mark":{"type":"rect","color":"#1874cd"},"encoding":{"x":{"datum":1.0392,"type":"quantitative","scale":{"domain":[0.2,1.4],"nice":false,"zero":false},"axis":{"orient":"bottom","tickCount":6,"tickSize":-8,"labels":false,"title":null}},"x2":{"datum":1.4},"y":{"datum":0,"type":"quantitative","scale":{"domain":[0,1],"nice":false,"zero":false},"axis":{"orient":"left","values":[0.25,0.5,0.75],"format":".2f","tickSize":-8,"labelPadding":16,"title":null}},"y2":{"datum":1}}},
    {"data":{"name":"hatch"},"mark":{"type":"rule","clip":true,"color":"black","strokeWidth":1},"encoding":{"x":{"field":"c","type":"quantitative","axis":{"orient":"bottom","tickCount":24,"tickSize":-4,"labels":false,"domain":false,"title":null}},"x2":{"field":"c2"},"y":{"datum":0,"type":"quantitative","axis":{"orient":"right","values":[0.25,0.5,0.75],"tickSize":-8,"labels":false,"title":null}},"y2":{"datum":1}}},
    {"mark":{"type":"rect","color":"white"},"encoding":{"x":{"datum":0.4619,"type":"quantitative","axis":{"orient":"top","tickCount":6,"tickSize":-8,"labels":false,"title":null}},"x2":{"datum":1.0392},"y":{"datum":0,"type":"quantitative","axis":null},"y2":{"datum":1}}},
    {"mark":{"type":"area","color":"#87cefa"},"encoding":{"x":{"field":"s","type":"quantitative","axis":{"orient":"top","tickCount":24,"tickSize":-4,"labels":false,"domain":false,"title":null}},"y":{"field":"lo","type":"quantitative","axis":null,"stack":null},"y2":{"field":"hi"}}},
    {"mark":{"type":"area","color":"#1874cd"},"encoding":{"x":{"field":"s","type":"quantitative","axis":null},"y":{"field":"hi","type":"quantitative","axis":null,"stack":null},"y2":{"datum":1}}},
    {"mark":{"type":"line","color":"black","strokeWidth":2.5},"encoding":{"x":{"field":"s","type":"quantitative","axis":null},"y":{"field":"lo","type":"quantitative","axis":null}}},
    {"mark":{"type":"line","color":"black","strokeWidth":2.5},"encoding":{"x":{"field":"s","type":"quantitative","axis":null},"y":{"field":"hi","type":"quantitative","axis":null}}},
    {"mark":{"type":"rule","color":"black","strokeWidth":2},"encoding":{"x":{"datum":0.4619,"axis":null}}},
    {"mark":{"type":"rule","color":"black","strokeWidth":2},"encoding":{"x":{"datum":1.0392,"axis":null}}},
    {"mark":{"type":"rule","color":"#ff4500","strokeWidth":3.5},"encoding":{"x":{"datum":0.778,"axis":null}}},
    {"mark":{"type":"rule","color":"#00e000","strokeWidth":3.5},"encoding":{"x":{"datum":1,"axis":null}}},
    {"data":{"values":[{}]},"mark":{"type":"point","shape":"M 1 -0.14 L -0.42 -0.14 L -0.42 -0.39 L -1 0 L -0.42 0.39 L -0.42 0.14 L 1 0.14 Z","size":7396,"filled":true,"color":"black","opacity":1},"encoding":{"x":{"datum":0.342,"axis":null},"y":{"datum":0.5,"axis":null}}},
    {"data":{"values":[{}]},"mark":{"type":"rect","fill":"white","stroke":"black","strokeWidth":2},"encoding":{"x":{"datum":1.2,"axis":null},"x2":{"datum":1.4},"y":{"datum":0.6,"axis":null},"y2":{"datum":1}}},
    {"data":{"values":[{}]},"mark":{"type":"text","text":"θ =60°","align":"left","baseline":"middle","font":"DejaVu Sans","fontSize":35,"color":"black"},"encoding":{"x":{"datum":1.222,"axis":null},"y":{"datum":0.8,"axis":null}}}
   ]},
  {"width":879,"height":146.5,
   "data":{"name":"curves"},"transform":[{"filter":"datum.p=='R4'"}],
   "resolve":{"axis":{"x":"independent","y":"independent"}},
   "layer":[
    {"mark":{"type":"rect","color":"#1874cd"},"encoding":{"x":{"datum":1.3856,"type":"quantitative","scale":{"domain":[0.2,1.4],"nice":false,"zero":false},"axis":{"orient":"bottom","tickCount":6,"tickSize":-8,"labels":false,"title":null}},"x2":{"datum":1.4},"y":{"datum":0,"type":"quantitative","scale":{"domain":[0,1],"nice":false,"zero":false},"axis":{"orient":"left","values":[0.25,0.5,0.75],"format":".2f","tickSize":-8,"labelPadding":16,"title":null}},"y2":{"datum":1}}},
    {"data":{"name":"hatch"},"mark":{"type":"rule","clip":true,"color":"black","strokeWidth":1},"encoding":{"x":{"field":"c","type":"quantitative","axis":{"orient":"bottom","tickCount":24,"tickSize":-4,"labels":false,"domain":false,"title":null}},"x2":{"field":"c2"},"y":{"datum":0,"type":"quantitative","axis":{"orient":"right","values":[0.25,0.5,0.75],"tickSize":-8,"labels":false,"title":null}},"y2":{"datum":1}}},
    {"mark":{"type":"rect","color":"white"},"encoding":{"x":{"datum":0.4619,"type":"quantitative","axis":{"orient":"top","tickCount":6,"tickSize":-8,"labels":false,"title":null}},"x2":{"datum":1.3856},"y":{"datum":0,"type":"quantitative","axis":null},"y2":{"datum":1}}},
    {"mark":{"type":"area","color":"#87cefa"},"encoding":{"x":{"field":"s","type":"quantitative","axis":{"orient":"top","tickCount":24,"tickSize":-4,"labels":false,"domain":false,"title":null}},"y":{"field":"lo","type":"quantitative","axis":null,"stack":null},"y2":{"field":"hi"}}},
    {"mark":{"type":"area","color":"#1874cd"},"encoding":{"x":{"field":"s","type":"quantitative","axis":null},"y":{"field":"hi","type":"quantitative","axis":null,"stack":null},"y2":{"datum":1}}},
    {"mark":{"type":"line","color":"black","strokeWidth":2.5},"encoding":{"x":{"field":"s","type":"quantitative","axis":null},"y":{"field":"lo","type":"quantitative","axis":null}}},
    {"mark":{"type":"line","color":"black","strokeWidth":2.5},"encoding":{"x":{"field":"s","type":"quantitative","axis":null},"y":{"field":"hi","type":"quantitative","axis":null}}},
    {"mark":{"type":"rule","color":"black","strokeWidth":2},"encoding":{"x":{"datum":0.4619,"axis":null}}},
    {"mark":{"type":"rule","color":"black","strokeWidth":2},"encoding":{"x":{"datum":1.3856,"axis":null}}},
    {"mark":{"type":"rule","color":"#ff4500","strokeWidth":3.5},"encoding":{"x":{"datum":0.952,"axis":null}}},
    {"mark":{"type":"rule","color":"#00e000","strokeWidth":3.5},"encoding":{"x":{"datum":1,"axis":null}}},
    {"data":{"values":[{}]},"mark":{"type":"point","shape":"M -1 -0.14 L 0.42 -0.14 L 0.42 -0.39 L 1 0 L 0.42 0.39 L 0.42 0.14 L -1 0.14 Z","size":7396,"filled":true,"color":"black","opacity":1},"encoding":{"x":{"datum":0.357,"axis":null},"y":{"datum":0.5,"axis":null}}}
   ]}
 ]},
 {"spacing":0,"bounds":"flush","vconcat":[
  {"width":879,"height":146.5,
   "data":{"name":"curves"},"transform":[{"filter":"datum.p=='R5'"}],
   "resolve":{"axis":{"x":"independent","y":"independent"}},
   "layer":[
    {"mark":{"type":"rect","color":"#1874cd"},"encoding":{"x":{"datum":0.9238,"type":"quantitative","scale":{"domain":[0.2,1.4],"nice":false,"zero":false},"axis":{"orient":"bottom","tickCount":6,"tickSize":-8,"labels":false,"title":null}},"x2":{"datum":1.4},"y":{"datum":0,"type":"quantitative","scale":{"domain":[0,1],"nice":false,"zero":false},"axis":{"orient":"left","values":[0.25,0.5,0.75],"format":".2f","tickSize":-8,"labelPadding":16,"title":null}},"y2":{"datum":1}}},
    {"data":{"name":"hatch"},"mark":{"type":"rule","clip":true,"color":"black","strokeWidth":1},"encoding":{"x":{"field":"c","type":"quantitative","axis":{"orient":"bottom","tickCount":24,"tickSize":-4,"labels":false,"domain":false,"title":null}},"x2":{"field":"c2"},"y":{"datum":0,"type":"quantitative","axis":{"orient":"right","values":[0.25,0.5,0.75],"tickSize":-8,"labels":false,"title":null}},"y2":{"datum":1}}},
    {"mark":{"type":"rect","color":"white"},"encoding":{"x":{"datum":0.4619,"type":"quantitative","axis":{"orient":"top","tickCount":6,"tickSize":-8,"labels":false,"title":null}},"x2":{"datum":0.9238},"y":{"datum":0,"type":"quantitative","axis":null},"y2":{"datum":1}}},
    {"mark":{"type":"area","color":"#87cefa"},"encoding":{"x":{"field":"s","type":"quantitative","axis":{"orient":"top","tickCount":24,"tickSize":-4,"labels":false,"domain":false,"title":null}},"y":{"field":"lo","type":"quantitative","axis":null,"stack":null},"y2":{"field":"hi"}}},
    {"mark":{"type":"area","color":"#1874cd"},"encoding":{"x":{"field":"s","type":"quantitative","axis":null},"y":{"field":"hi","type":"quantitative","axis":null,"stack":null},"y2":{"datum":1}}},
    {"mark":{"type":"line","color":"black","strokeWidth":2.5},"encoding":{"x":{"field":"s","type":"quantitative","axis":null},"y":{"field":"lo","type":"quantitative","axis":null}}},
    {"mark":{"type":"line","color":"black","strokeWidth":2.5},"encoding":{"x":{"field":"s","type":"quantitative","axis":null},"y":{"field":"hi","type":"quantitative","axis":null}}},
    {"mark":{"type":"rule","color":"black","strokeWidth":2},"encoding":{"x":{"datum":0.4619,"axis":null}}},
    {"mark":{"type":"rule","color":"black","strokeWidth":2},"encoding":{"x":{"datum":0.9238,"axis":null}}},
    {"mark":{"type":"rule","color":"#ff4500","strokeWidth":3.5},"encoding":{"x":{"datum":0.836,"axis":null}}},
    {"mark":{"type":"rule","color":"#00e000","strokeWidth":3.5},"encoding":{"x":{"datum":1,"axis":null}}},
    {"data":{"values":[{}]},"mark":{"type":"point","shape":"M 1 -0.14 L -0.42 -0.14 L -0.42 -0.39 L -1 0 L -0.42 0.39 L -0.42 0.14 L 1 0.14 Z","size":7396,"filled":true,"color":"black","opacity":1},"encoding":{"x":{"datum":0.342,"axis":null},"y":{"datum":0.5,"axis":null}}},
    {"data":{"values":[{}]},"mark":{"type":"rect","fill":"white","stroke":"black","strokeWidth":2},"encoding":{"x":{"datum":1.2,"axis":null},"x2":{"datum":1.4},"y":{"datum":0.6,"axis":null},"y2":{"datum":1}}},
    {"data":{"values":[{}]},"mark":{"type":"text","text":"θ =90°","align":"left","baseline":"middle","font":"DejaVu Sans","fontSize":35,"color":"black"},"encoding":{"x":{"datum":1.222,"axis":null},"y":{"datum":0.8,"axis":null}}}
   ]},
  {"width":879,"height":146.5,
   "data":{"name":"curves"},"transform":[{"filter":"datum.p=='R6'"}],
   "resolve":{"axis":{"x":"independent","y":"independent"}},
   "layer":[
    {"mark":{"type":"rect","color":"#1874cd"},"encoding":{"x":{"datum":1.223,"type":"quantitative","scale":{"domain":[0.2,1.4],"nice":false,"zero":false},"axis":{"orient":"bottom","tickCount":6,"tickSize":-8,"labelPadding":21,"title":"S/S*","titlePadding":8}},"x2":{"datum":1.4},"y":{"datum":0,"type":"quantitative","scale":{"domain":[0,1],"nice":false,"zero":false},"axis":{"orient":"left","values":[0.25,0.5,0.75],"format":".2f","tickSize":-8,"labelPadding":16,"title":null}},"y2":{"datum":1}}},
    {"data":{"name":"hatch"},"mark":{"type":"rule","clip":true,"color":"black","strokeWidth":1},"encoding":{"x":{"field":"c","type":"quantitative","axis":{"orient":"bottom","tickCount":24,"tickSize":-4,"labels":false,"domain":false,"title":null}},"x2":{"field":"c2"},"y":{"datum":0,"type":"quantitative","axis":{"orient":"right","values":[0.25,0.5,0.75],"tickSize":-8,"labels":false,"title":null}},"y2":{"datum":1}}},
    {"mark":{"type":"rect","color":"white"},"encoding":{"x":{"datum":0.4619,"type":"quantitative","axis":{"orient":"top","tickCount":6,"tickSize":-8,"labels":false,"title":null}},"x2":{"datum":1.223},"y":{"datum":0,"type":"quantitative","axis":null},"y2":{"datum":1}}},
    {"mark":{"type":"area","color":"#87cefa"},"encoding":{"x":{"field":"s","type":"quantitative","axis":{"orient":"top","tickCount":24,"tickSize":-4,"labels":false,"domain":false,"title":null}},"y":{"field":"lo","type":"quantitative","axis":null,"stack":null},"y2":{"field":"hi"}}},
    {"mark":{"type":"area","color":"#1874cd"},"encoding":{"x":{"field":"s","type":"quantitative","axis":null},"y":{"field":"hi","type":"quantitative","axis":null,"stack":null},"y2":{"datum":1}}},
    {"mark":{"type":"line","color":"black","strokeWidth":2.5},"encoding":{"x":{"field":"s","type":"quantitative","axis":null},"y":{"field":"lo","type":"quantitative","axis":null}}},
    {"mark":{"type":"line","color":"black","strokeWidth":2.5},"encoding":{"x":{"field":"s","type":"quantitative","axis":null},"y":{"field":"hi","type":"quantitative","axis":null}}},
    {"mark":{"type":"rule","color":"black","strokeWidth":2},"encoding":{"x":{"datum":0.4619,"axis":null}}},
    {"mark":{"type":"rule","color":"black","strokeWidth":2},"encoding":{"x":{"datum":1.223,"axis":null}}},
    {"mark":{"type":"rule","color":"#ff4500","strokeWidth":3.5},"encoding":{"x":{"datum":0.952,"axis":null}}},
    {"mark":{"type":"rule","color":"#00e000","strokeWidth":3.5},"encoding":{"x":{"datum":1,"axis":null}}},
    {"data":{"values":[{}]},"mark":{"type":"point","shape":"M -1 -0.14 L 0.42 -0.14 L 0.42 -0.39 L 1 0 L 0.42 0.39 L 0.42 0.14 L -1 0.14 Z","size":7396,"filled":true,"color":"black","opacity":1},"encoding":{"x":{"datum":0.357,"axis":null},"y":{"datum":0.5,"axis":null}}}
   ]}
 ]}
]}
]
}
